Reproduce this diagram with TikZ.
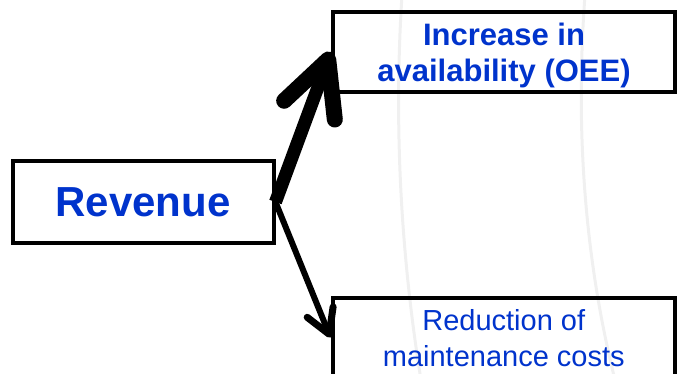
\documentclass[tikz,border=0pt]{standalone}
\usepackage{fontspec}
\setmainfont{Liberation Sans}
\usetikzlibrary{arrows.meta,positioning}
\definecolor{textblue}{RGB}{0,51,204}

\begin{document}
\begin{tikzpicture}[x=1pt,y=-1pt,
	box/.style={draw,rectangle,line width=4pt,text=textblue,text depth=0pt,align=center},
	bigarrow/.style={line width=13pt,-{Straight Barb[length=54pt,width=54pt,line width=16pt,round]}},
	smallarrow/.style={line width=6pt,-{Straight Barb[length=24pt,width=28pt,line width=7pt,round]}},
	globe/.style={gray!12,line width=3pt}]
	\useasboundingbox (0,0) rectangle (677,374);

	% faint background arcs
	\draw[globe] (402,-5) .. controls (394,120) and (400,250) .. (421,380);
	\draw[globe] (585,-5) .. controls (575,130) and (585,260) .. (615,380);

	\node[box,minimum width=261pt,minimum height=81pt,font=\fontsize{42}{48}\selectfont\bfseries] (rev) at (143,202) {Revenue};
	\node[box,minimum width=342pt,minimum height=80.5pt,font=\fontsize{31}{36}\selectfont\bfseries] (up) at (504,52) {Increase in\\availability (OEE)};
	\node[box,minimum width=342.5pt,minimum height=80pt,font=\fontsize{29}{36}\selectfont] (low) at (503.75,337.5) {Reduction of\\maintenance costs};

	\path
	(rev.east) edge [bigarrow] (up.west)
	(rev.east) edge [smallarrow] (low.west)
	;
\end{tikzpicture}
\end{document}
